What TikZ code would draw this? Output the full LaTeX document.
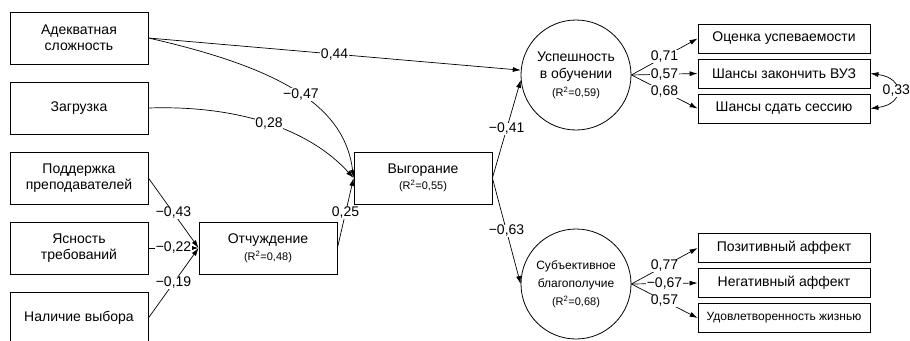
\documentclass[tikz,border=0pt]{standalone}
\usepackage{fontspec}
\setmainfont{Liberation Sans}
\usetikzlibrary{arrows.meta}

\newcommand{\rsq}[1]{{\fontsize{11}{13}\selectfont (R\textsuperscript{2}=#1)}}

\begin{document}
\begin{tikzpicture}[x=1pt,y=-1pt,
        box/.style={draw,line width=0.8pt,minimum width=138pt,minimum height=52pt,
            align=center,inner sep=1pt,font=\fontsize{14}{16.5}\selectfont},
        ind/.style={draw,line width=0.8pt,minimum width=172pt,minimum height=29pt,
            inner sep=1pt,font=\fontsize{14}{16.5}\selectfont},
        lat/.style={draw,circle,line width=0.8pt,minimum size=110pt,inner sep=0pt,
            align=center,font=\fontsize{14}{17.5}\selectfont},
        lbl/.style={fill=white,inner sep=0.6pt,font=\fontsize{14}{16}\selectfont},
        arr/.style={-{Latex[length=8pt,width=5pt]},line width=0.7pt}]
\useasboundingbox (0,0) rectangle (910,340);

% predictors
\node[box] (adeq) at (79,38) {Адекватная\\сложность};
\node[box] (zagr) at (79,108) {Загрузка};
\node[box] (podd) at (79,178) {Поддержка\\преподавателей};
\node[box] (yasn) at (79,248) {Ясность\\требований};
\node[box] (nalv) at (79,318) {Наличие выбора};

\node[box] (otch) at (268,248) {Отчуждение\\\rsq{0,48}};
\node[box] (vygo) at (423,178) {Выгорание\\\rsq{0,55}};

% latent outcomes
\node[lat] (uspe) at (576,75) {Успешность\\в обучении\\\rsq{0,59}};
\node[lat,font=\fontsize{12}{18}\selectfont] (subj) at (576,284)
    {Субъективное\\благополучие\\\rsq{0,68}};

\node[ind] (ocen) at (784,38.5) {Оценка успеваемости};
\node[ind] (zako) at (784,73.5) {Шансы закончить ВУЗ};
\node[ind] (sess) at (784,108.5) {Шансы сдать сессию};
\node[ind] (pozi) at (784,248) {Позитивный аффект};
\node[ind] (nega) at (784,283) {Негативный аффект};
\node[ind,font=\fontsize{12}{14}\selectfont] (udov) at (784,318) {Удовлетворенность жизнью};

\draw[arr] (adeq.east) -- node[lbl]{0,44} (uspe.175);
\draw[arr] (adeq.east) .. controls (290,70) and (345,110) .. node[lbl]{−0,47} (vygo.west);
\draw[arr] (zagr.east) .. controls (240,105) and (310,130) .. node[lbl]{0,28} (vygo.west);
\draw[arr] (otch.east) -- node[lbl]{0,25} (vygo.west);

\draw[arr] (podd.east) -- node[lbl]{−0,43} (otch.west);
\draw[arr] (yasn.east) -- node[lbl]{−0,22} (otch.west);
\draw[arr] (nalv.east) -- node[lbl]{−0,19} (otch.west);

\draw[arr] (vygo.east) -- node[lbl]{−0,41} (uspe.185);
\draw[arr] (vygo.east) -- node[lbl]{−0,63} (subj.west);

\draw[arr] (uspe.east) -- node[lbl]{0,71} (ocen.west);
\draw[arr] (uspe.east) -- node[lbl]{0,57} (zako.west);
\draw[arr] (uspe.east) -- node[lbl]{0,68} (sess.west);
\draw[{Latex[length=8pt,width=5pt]}-{Latex[length=8pt,width=5pt]},line width=0.7pt]
    (zako.east) .. controls (905,78) and (905,104) .. node[lbl]{0,33} (sess.east);

\draw[arr] (subj.east) -- node[lbl]{0,77} (pozi.west);
\draw[arr] (subj.east) -- node[lbl]{−0,67} (nega.west);
\draw[arr] (subj.east) -- node[lbl]{0,57} (udov.west);
\end{tikzpicture}
\end{document}
